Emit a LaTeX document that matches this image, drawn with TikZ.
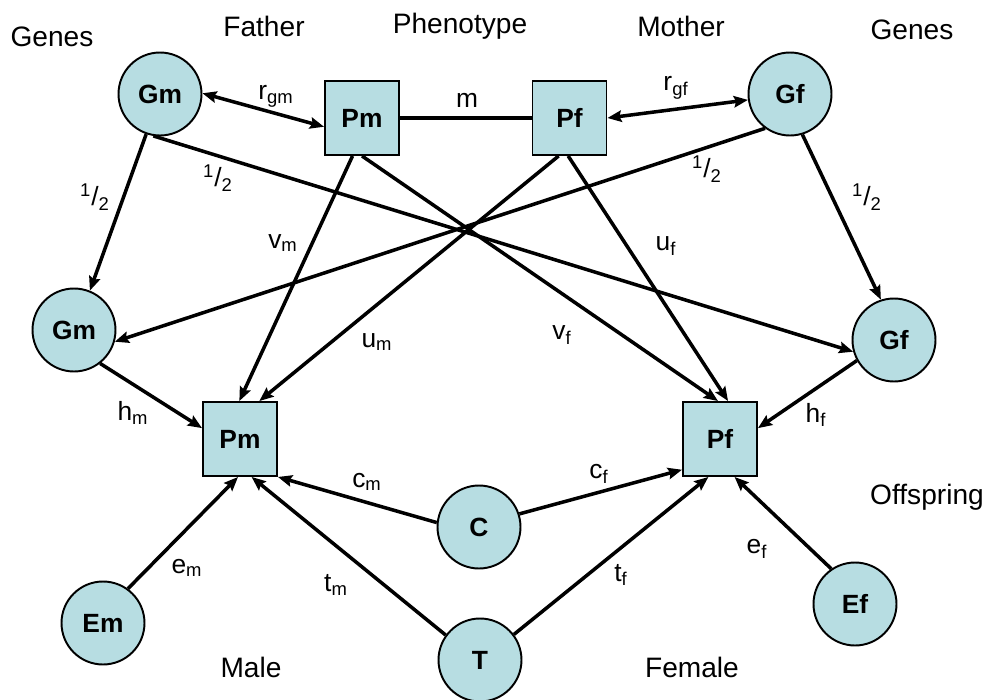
\documentclass[tikz,border=0pt]{standalone}
\usepackage{fontspec}
\setmainfont{Liberation Sans}
\usetikzlibrary{arrows.meta}
\definecolor{nodefill}{RGB}{183,221,226}
\tikzset{
  gcirc/.style={circle,draw=black,line width=1.1pt,fill=nodefill,minimum size=1.66cm,inner sep=0pt,font=\fontsize{15}{18}\selectfont\bfseries},
  pbox/.style={rectangle,draw=black,line width=1.1pt,fill=nodefill,minimum size=1.48cm,inner sep=0pt,font=\fontsize{15}{18}\selectfont\bfseries},
  lbl/.style={font=\fontsize{16}{19}\selectfont,inner sep=0pt},
  elbl/.style={font=\fontsize{15}{18}\selectfont,inner sep=0pt},
  edge/.style={line width=2pt,-{Stealth[length=8pt,width=6.5pt,inset=1.2pt]}},
  bedge/.style={line width=2pt,{Stealth[length=8pt,width=6.5pt,inset=1.2pt]}-{Stealth[length=8pt,width=6.5pt,inset=1.2pt]}},
  pedge/.style={line width=2pt}
}
\begin{document}
\begin{tikzpicture}[x=0.02cm,y=-0.02cm]
\useasboundingbox (0,0) rectangle (995,700);
% nodes
\node[gcirc] (Gm1) at (160,94) {Gm};
\node[pbox]  (Pm1) at (362,118) {Pm};
\node[pbox]  (Pf1) at (569.5,118) {Pf};
\node[gcirc] (Gf1) at (790,94) {Gf};
\node[gcirc] (Gm2) at (74,330) {Gm};
\node[gcirc] (Gf2) at (894,340) {Gf};
\node[pbox]  (Pm2) at (240,439) {Pm};
\node[pbox]  (Pf2) at (720,439) {Pf};
\node[gcirc] (C)  at (479,527) {C};
\node[gcirc] (Em) at (103,623) {Em};
\node[gcirc] (T)  at (480,660) {T};
\node[gcirc] (Ef) at (855,604) {Ef};
% headings
\node[lbl] (hGenesL) at (52,37) {Genes};
\node[lbl] (hFather) at (264,26) {Father};
\node[lbl] (hPheno) at (460,26) {Phenotype};
\node[lbl] (hMother) at (681,26) {Mother};
\node[lbl] (hGenesR) at (912,30) {Genes};
\node[lbl] (hOff) at (927,497) {Offspring};
\node[lbl] (hMale) at (251,667) {Male};
\node[lbl] (hFemale) at (692,667) {Female};
% connectors
\draw[bedge] (Gm1.1) -- (Pm1.193);
\draw[pedge] (Pm1.east) -- (Pf1.west);
\draw[bedge] (Pf1.east) -- (Gf1.188);
\draw[edge] (Gm1.251) -- (Gm2.68);
\draw[edge] (Gm1.261) -- (Gf2.196);
\draw[edge] (Gf1.234) -- (Gm2.344);
\draw[edge] (Gf1.287) -- (Gf2.108);
\draw[edge] (Pm1.256) -- (Pm2.91);
\draw[edge] (Pm1.270) -- (Pf2.93);
\draw[edge] (Pf1.254) -- (Pm2.63);
\draw[edge] (Pf1.268) -- (Pf2.78);
\draw[edge] (Gm2.308) -- (Pm2.164);
\draw[edge] (Gf2.209) -- (Pf2.16);
\draw[edge] (C.174) -- (Pm2.south east);
\draw[edge] (C.18) -- (Pf2.219);
\draw[edge] (Em.54) -- (Pm2.267);
\draw[edge] (T.144) -- (Pm2.287);
\draw[edge] (T.37) -- (Pf2.253);
\draw[edge] (Ef.124) -- (Pf2.291);
% edge labels
\node[elbl] (lrgm) at (276,96) {r\textsubscript{gm}};
\node[elbl] (lm) at (467,100) {m};
\node[elbl] (lrgf) at (676,88) {r\textsubscript{gf}};
\node[elbl] (lh1) at (95,197) {\textsuperscript{1}/\textsubscript{2}};
\node[elbl] (lh2) at (218,178) {\textsuperscript{1}/\textsubscript{2}};
\node[elbl] (lh3) at (707,169) {\textsuperscript{1}/\textsubscript{2}};
\node[elbl] (lh4) at (867,197) {\textsuperscript{1}/\textsubscript{2}};
\node[elbl] (lvm) at (283,243) {v\textsubscript{m}};
\node[elbl] (luf) at (666,246) {u\textsubscript{f}};
\node[elbl] (lum) at (377,342) {u\textsubscript{m}};
\node[elbl] (lvf) at (562,335) {v\textsubscript{f}};
\node[elbl] (lhm) at (133,413) {h\textsubscript{m}};
\node[elbl] (lhf) at (816,415) {h\textsubscript{f}};
\node[elbl] (lcm) at (367,482) {c\textsubscript{m}};
\node[elbl] (lcf) at (599,474) {c\textsubscript{f}};
\node[elbl] (lem) at (187,568) {e\textsubscript{m}};
\node[elbl] (ltm) at (336,585) {t\textsubscript{m}};
\node[elbl] (ltf) at (621,575) {t\textsubscript{f}};
\node[elbl] (lef) at (757,549) {e\textsubscript{f}};
\end{tikzpicture}
\end{document}
